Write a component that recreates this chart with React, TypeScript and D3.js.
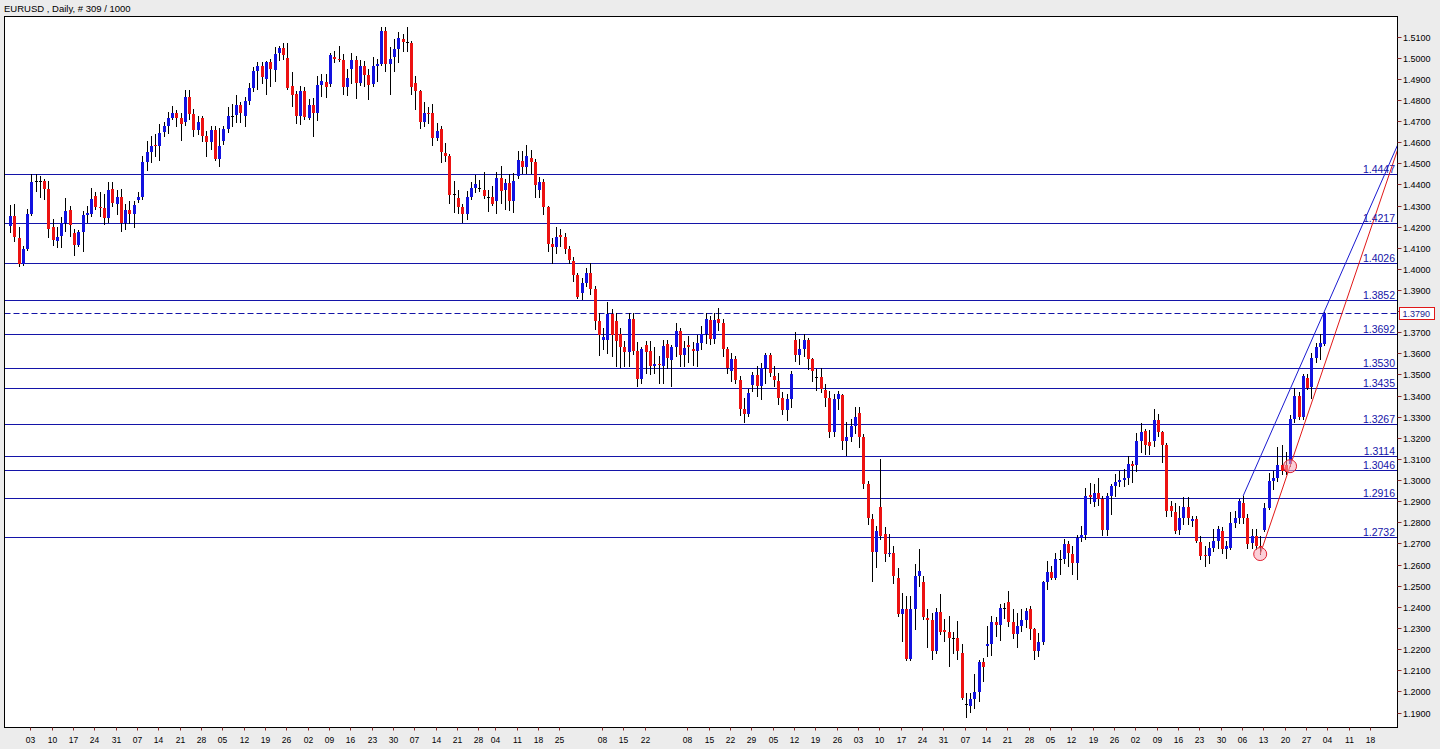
import React from 'react';
import * as d3 from 'd3';

const TITLE = 'EURUSD , Daily, # 309 / 1000';
const firstDay = '2009-07-27';
const lastAxisDay = '2010-10-22';
const holidays = ['2010-01-01'];

const opens = [
1.4202,1.4248,1.4148,1.4022,1.4093,1.4262,1.4410,1.4412,1.4414,1.4377,
1.4196,1.4132,1.4156,1.4216,1.4278,1.4169,1.4112,1.4174,1.4254,1.4259,
1.4345,1.4295,1.4287,1.4241,1.4378,1.4306,1.4338,1.4216,1.4278,1.4259,
1.4325,1.4338,1.4506,1.4554,1.4588,1.4582,1.4648,1.4677,1.4715,1.4737,
1.4712,1.4693,1.4813,1.4732,1.4658,1.4715,1.4630,1.4601,1.4658,1.4522,
1.4606,1.4661,1.4722,1.4727,1.4775,1.4725,1.4796,1.4857,1.4937,1.4961,
1.4901,1.4977,1.4942,1.5020,1.5044,1.4998,1.4866,1.4827,1.4724,1.4843,
1.4712,1.4775,1.4737,1.4870,1.4885,1.4873,1.5003,1.4995,1.4988,1.4861,
1.4945,1.4988,1.4879,1.4958,1.4917,1.4875,1.4961,1.4972,1.5128,1.4970,
1.5001,1.5040,1.5090,1.5072,1.5068,1.4879,1.4843,1.4696,1.4740,1.4737,
1.4620,1.4661,1.4547,1.4532,1.4355,1.4335,1.4291,1.4262,1.4338,1.4382,
1.4385,1.4374,1.4342,1.4340,1.4322,1.4429,1.4373,1.4405,1.4322,1.4440,
1.4512,1.4480,1.4527,1.4506,1.4374,1.4412,1.4291,1.4117,1.4103,1.4160,
1.4150,1.4093,1.4038,1.3970,1.3888,1.3935,1.3979,1.3907,1.3754,1.3665,
1.3664,1.3785,1.3754,1.3691,1.3628,1.3607,1.3765,1.3612,1.3478,1.3638,
1.3612,1.3538,1.3550,1.3541,1.3644,1.3569,1.3628,1.3706,1.3590,1.3640,
1.3622,1.3611,1.3648,1.3691,1.3760,1.3666,1.3762,1.3745,1.3619,1.3517,
1.3572,1.3472,1.3336,1.3315,1.3450,1.3498,1.3444,1.3533,1.3592,1.3495,
1.3470,1.3391,1.3334,1.3382,1.3664,1.3591,1.3620,1.3664,1.3573,1.3488,
1.3490,1.3425,1.3391,1.3226,1.3383,1.3402,1.3185,1.3205,1.3257,1.3317,
1.3202,1.2981,1.2818,1.2660,1.2875,1.2744,1.2650,1.2654,1.2539,1.2365,
1.2389,1.2152,1.2389,1.2547,1.2516,1.2345,1.2339,1.2192,1.2374,1.2290,
1.2279,1.2255,1.2255,1.2184,1.1938,1.1931,1.1963,1.1999,1.2140,1.2216,
1.2224,1.2329,1.2313,1.2390,1.2421,1.2329,1.2270,1.2310,1.2340,1.2392,
1.2294,1.2192,1.2236,1.2516,1.2563,1.2535,1.2625,1.2628,1.2697,1.2650,
1.2610,1.2728,1.2740,1.2930,1.2897,1.2941,1.2913,1.2764,1.2923,1.2970,
1.2990,1.3000,1.3008,1.3075,1.3072,1.3183,1.3232,1.3181,1.3186,1.3284,
1.3226,1.3166,1.2878,1.2847,1.2764,1.2823,1.2875,1.2807,1.2815,1.2705,
1.2646,1.2641,1.2681,1.2712,1.2760,1.2676,1.2681,1.2799,1.2823,1.2894,
1.2823,1.2700,1.2737,1.2690,1.2764,1.2869,1.2998,1.3012,1.3071,1.3070,
1.3075,1.3289,1.3396,1.3297,1.3484,1.3443,1.3576,1.3631,1.3644
];

const highs = [
1.4303,1.4306,1.4197,1.4110,1.4283,1.4448,1.4448,1.4440,1.4425,1.4418,
1.4238,1.4198,1.4247,1.4335,1.4298,1.4187,1.4184,1.4275,1.4298,1.4382,
1.4362,1.4362,1.4353,1.4409,1.4409,1.4374,1.4377,1.4306,1.4322,1.4322,
1.4364,1.4535,1.4605,1.4630,1.4638,1.4685,1.4693,1.4743,1.4769,1.4753,
1.4736,1.4847,1.4847,1.4756,1.4724,1.4724,1.4653,1.4677,1.4674,1.4669,
1.4674,1.4764,1.4780,1.4822,1.4788,1.4812,1.4882,1.4956,1.4977,1.4980,
1.4985,1.4993,1.5048,1.5056,1.5068,1.5067,1.4932,1.4843,1.4866,1.4859,
1.4806,1.4811,1.4911,1.4922,1.4922,1.5024,1.5029,1.5056,1.5016,1.4945,
1.5024,1.5008,1.4989,1.4985,1.4945,1.5001,1.4995,1.5145,1.5143,1.5048,
1.5087,1.5119,1.5111,1.5143,1.5079,1.4911,1.4847,1.4788,1.4766,1.4780,
1.4690,1.4677,1.4595,1.4543,1.4416,1.4374,1.4305,1.4369,1.4409,1.4443,
1.4421,1.4459,1.4374,1.4393,1.4459,1.4487,1.4424,1.4448,1.4456,1.4558,
1.4558,1.4585,1.4563,1.4519,1.4433,1.4424,1.4298,1.4148,1.4196,1.4191,
1.4172,1.4109,1.4054,1.3980,1.3959,1.4006,1.4027,1.3919,1.3793,1.3722,
1.3841,1.3809,1.3793,1.3720,1.3659,1.3793,1.3793,1.3655,1.3628,1.3659,
1.3659,1.3628,1.3588,1.3665,1.3664,1.3640,1.3746,1.3722,1.3659,1.3683,
1.3655,1.3686,1.3730,1.3790,1.3775,1.3790,1.3815,1.3762,1.3632,1.3604,
1.3588,1.3493,1.3391,1.3430,1.3512,1.3541,1.3553,1.3604,1.3604,1.3541,
1.3509,1.3418,1.3407,1.3517,1.3699,1.3667,1.3691,1.3675,1.3580,1.3525,
1.3533,1.3454,1.3422,1.3407,1.3422,1.3407,1.3273,1.3288,1.3348,1.3348,
1.3217,1.2996,1.2840,1.2783,1.3100,1.2780,1.2744,1.2689,1.2586,1.2468,
1.2452,1.2452,1.2602,1.2676,1.2547,1.2389,1.2373,1.2397,1.2460,1.2342,
1.2357,1.2281,1.2333,1.2223,1.1994,1.1991,1.2081,1.2149,1.2160,1.2310,
1.2357,1.2354,1.2412,1.2420,1.2475,1.2389,1.2373,1.2389,1.2395,1.2404,
1.2302,1.2278,1.2523,1.2617,1.2594,1.2657,1.2669,1.2720,1.2712,1.2689,
1.2739,1.2783,1.2965,1.2988,1.2983,1.3010,1.2925,1.2941,1.2983,1.3028,
1.3044,1.3052,1.3115,1.3091,1.3225,1.3269,1.3244,1.3238,1.3339,1.3312,
1.3233,1.3178,1.2902,1.2894,1.2878,1.2922,1.2922,1.2830,1.2831,1.2736,
1.2689,1.2705,1.2768,1.2783,1.2776,1.2712,1.2847,1.2854,1.2910,1.2925,
1.2839,1.2768,1.2768,1.2736,1.2894,1.3036,1.3044,1.3159,1.3165,1.3131,
1.3310,1.3438,1.3415,1.3501,1.3501,1.3601,1.3651,1.3691,1.3797
];

const lows = [
1.4175,1.4132,1.4013,1.4016,1.4090,1.4255,1.4369,1.4340,1.4330,1.4150,
1.4112,1.4102,1.4102,1.4177,1.4156,1.4067,1.4109,1.4085,1.4220,1.4251,
1.4283,1.4251,1.4211,1.4222,1.4298,1.4259,1.4180,1.4188,1.4216,1.4196,
1.4318,1.4330,1.4470,1.4506,1.4535,1.4516,1.4627,1.4645,1.4709,1.4677,
1.4611,1.4680,1.4709,1.4627,1.4638,1.4606,1.4532,1.4567,1.4516,1.4487,
1.4590,1.4648,1.4677,1.4696,1.4696,1.4677,1.4780,1.4843,1.4851,1.4882,
1.4830,1.4866,1.4890,1.4989,1.4993,1.4851,1.4769,1.4690,1.4685,1.4709,
1.4709,1.4630,1.4705,1.4819,1.4812,1.4866,1.4977,1.4985,1.4827,1.4822,
1.4880,1.4811,1.4869,1.4866,1.4803,1.4866,1.4890,1.4965,1.4937,1.4827,
1.4937,1.4977,1.5032,1.5032,1.4827,1.4756,1.4669,1.4674,1.4690,1.4587,
1.4611,1.4506,1.4511,1.4311,1.4267,1.4264,1.4224,1.4235,1.4330,1.4362,
1.4369,1.4334,1.4274,1.4301,1.4264,1.4314,1.4282,1.4279,1.4267,1.4430,
1.4456,1.4453,1.4453,1.4338,1.4338,1.4259,1.4085,1.4030,1.4077,1.4109,
1.4077,1.4030,1.3943,1.3860,1.3856,1.3919,1.3880,1.3714,1.3591,1.3620,
1.3600,1.3588,1.3541,1.3535,1.3541,1.3541,1.3596,1.3446,1.3462,1.3509,
1.3501,1.3509,1.3462,1.3462,1.3533,1.3446,1.3588,1.3541,1.3541,1.3560,
1.3545,1.3541,1.3620,1.3650,1.3643,1.3650,1.3710,1.3588,1.3509,1.3470,
1.3462,1.3307,1.3273,1.3304,1.3422,1.3396,1.3383,1.3462,1.3491,1.3446,
1.3360,1.3312,1.3285,1.3344,1.3565,1.3549,1.3588,1.3528,1.3470,1.3427,
1.3418,1.3351,1.3206,1.3210,1.3336,1.3146,1.3118,1.3186,1.3225,1.3159,
1.2965,1.2791,1.2523,1.2591,1.2721,1.2617,1.2641,1.2515,1.2357,1.2239,
1.2149,1.2149,1.2294,1.2499,1.2342,1.2208,1.2155,1.2184,1.2271,1.2239,
1.2120,1.2184,1.2152,1.1963,1.1881,1.1903,1.1923,1.1955,1.2049,1.2168,
1.2171,1.2262,1.2243,1.2349,1.2310,1.2255,1.2208,1.2286,1.2305,1.2247,
1.2152,1.2168,1.2223,1.2484,1.2531,1.2531,1.2554,1.2610,1.2594,1.2554,
1.2531,1.2712,1.2720,1.2894,1.2878,1.2880,1.2739,1.2739,1.2839,1.2925,
1.2970,1.2970,1.2981,1.2989,1.3044,1.3131,1.3123,1.3123,1.3160,1.3209,
1.3085,1.2831,1.2831,1.2752,1.2744,1.2791,1.2791,1.2783,1.2705,1.2626,
1.2594,1.2610,1.2665,1.2681,1.2657,1.2629,1.2673,1.2776,1.2799,1.2799,
1.2681,1.2681,1.2673,1.2650,1.2760,1.2862,1.2960,1.2996,1.3028,1.3028,
1.3066,1.3273,1.3288,1.3288,1.3430,1.3391,1.3557,1.3572,1.3640
];

const closes = [
1.4249,1.4153,1.4022,1.4093,1.4259,1.4412,1.4414,1.4414,1.4380,1.4188,
1.4137,1.4153,1.4216,1.4275,1.4207,1.4112,1.4175,1.4254,1.4264,1.4330,
1.4295,1.4287,1.4241,1.4373,1.4311,1.4338,1.4216,1.4278,1.4259,1.4302,
1.4338,1.4504,1.4554,1.4582,1.4580,1.4642,1.4677,1.4715,1.4737,1.4712,
1.4685,1.4813,1.4732,1.4658,1.4695,1.4630,1.4601,1.4656,1.4522,1.4582,
1.4661,1.4725,1.4725,1.4775,1.4738,1.4796,1.4857,1.4937,1.4961,1.4906,
1.4977,1.4945,1.5016,1.5044,1.5013,1.4858,1.4822,1.4724,1.4843,1.4720,
1.4775,1.4738,1.4870,1.4887,1.4859,1.5011,1.4995,1.4990,1.4861,1.4905,
1.4988,1.4879,1.4961,1.4917,1.4870,1.4961,1.4972,1.5128,1.4970,1.4993,
1.5040,1.5095,1.5073,1.5068,1.4861,1.4843,1.4693,1.4740,1.4733,1.4620,
1.4651,1.4551,1.4532,1.4350,1.4352,1.4291,1.4262,1.4338,1.4382,1.4401,
1.4381,1.4343,1.4340,1.4305,1.4429,1.4369,1.4405,1.4322,1.4414,1.4516,
1.4480,1.4532,1.4508,1.4396,1.4412,1.4291,1.4117,1.4103,1.4151,1.4150,
1.4093,1.4042,1.3970,1.3869,1.3935,1.3979,1.3907,1.3754,1.3686,1.3676,
1.3785,1.3686,1.3660,1.3630,1.3607,1.3765,1.3610,1.3478,1.3620,1.3607,
1.3541,1.3550,1.3543,1.3635,1.3576,1.3628,1.3706,1.3593,1.3625,1.3628,
1.3611,1.3648,1.3691,1.3762,1.3666,1.3760,1.3745,1.3619,1.3533,1.3572,
1.3472,1.3336,1.3315,1.3411,1.3498,1.3444,1.3533,1.3592,1.3505,1.3475,
1.3391,1.3334,1.3382,1.3502,1.3591,1.3620,1.3664,1.3573,1.3517,1.3490,
1.3430,1.3391,1.3226,1.3383,1.3410,1.3185,1.3205,1.3257,1.3297,1.3202,
1.2981,1.2823,1.2660,1.2760,1.2736,1.2650,1.2655,1.2544,1.2365,1.2389,
1.2152,1.2389,1.2547,1.2570,1.2350,1.2339,1.2192,1.2374,1.2279,1.2279,
1.2255,1.2255,1.2192,1.1971,1.1934,1.1963,1.1995,1.2140,1.2117,1.2225,
1.2329,1.2313,1.2393,1.2393,1.2329,1.2270,1.2310,1.2340,1.2380,1.2294,
1.2192,1.2236,1.2516,1.2563,1.2535,1.2628,1.2628,1.2697,1.2655,1.2610,
1.2728,1.2740,1.2923,1.2920,1.2941,1.2910,1.2764,1.2923,1.2970,1.2990,
1.3000,1.3010,1.3075,1.3065,1.3183,1.3230,1.3168,1.3162,1.3284,1.3226,
1.3166,1.2856,1.2854,1.2760,1.2823,1.2875,1.2821,1.2815,1.2712,1.2641,
1.2641,1.2681,1.2712,1.2768,1.2676,1.2686,1.2799,1.2823,1.2902,1.2823,
1.2697,1.2737,1.2688,1.2683,1.2869,1.2998,1.3010,1.3071,1.3041,1.3040,
1.3289,1.3396,1.3297,1.3494,1.3438,1.3576,1.3631,1.3647,1.3790
];

const priceTicks = [
1.19,1.20,1.21,1.22,1.23,1.24,1.25,1.26,1.27,1.28,1.29,1.30,1.31,1.32,1.33,1.34,1.35,
1.36,1.37,1.38,1.39,1.40,1.41,1.42,1.43,1.44,1.45,1.46,1.47,1.48,1.49,1.50,1.51
];

const levels = [1.4447, 1.4217, 1.4026, 1.3852, 1.3692, 1.3530, 1.3435, 1.3267, 1.3114, 1.3046, 1.2916, 1.2732];
const lastPrice = 1.3790;

const tickDates = [
'2009-08-03','2009-08-10','2009-08-17','2009-08-24','2009-08-31','2009-09-07','2009-09-14','2009-09-21','2009-09-28',
'2009-10-05','2009-10-12','2009-10-19','2009-10-26','2009-11-02','2009-11-09','2009-11-16','2009-11-23','2009-11-30',
'2009-12-07','2009-12-14','2009-12-21','2009-12-28','2010-01-04','2010-01-11','2010-01-18','2010-01-25',
'2010-02-08','2010-02-15','2010-02-22','2010-03-08','2010-03-15','2010-03-22','2010-03-29','2010-04-05','2010-04-12',
'2010-04-19','2010-04-26','2010-05-03','2010-05-10','2010-05-17','2010-05-24','2010-05-31','2010-06-07','2010-06-14',
'2010-06-21','2010-06-28','2010-07-05','2010-07-12','2010-07-19','2010-07-26','2010-08-02','2010-08-09','2010-08-16',
'2010-08-23','2010-08-30','2010-09-06','2010-09-13','2010-09-20','2010-09-27','2010-10-04','2010-10-11','2010-10-18'
];

const blueTrend = [{ date: '2010-09-06', price: 1.2925 }, { date: '2010-10-01', price: 1.3797 }];
const redTrend = [{ date: '2010-09-10', price: 1.2650 }, { date: '2010-09-21', price: 1.3066 }];
const markedPoints = [{ date: '2010-09-10', price: 1.2650 }, { date: '2010-09-21', price: 1.3066 }];

const W = 1440;
const H = 749;
const PL = 4.5, PT = 16.5, PR = 1397.5, PB = 727.5;
const FONT = "'Liberation Sans', Arial, sans-serif";
const BULL = '#1212e0';
const BEAR = '#ec1212';
const LEVEL = '#1414a8';

export default function App() {
  const parse = d3.utcParse('%Y-%m-%d');
  const fmt = d3.utcFormat('%Y-%m-%d');
  const dayFmt = d3.utcFormat('%d');
  const days = d3.utcDay
    .range(parse(firstDay) as Date, d3.utcDay.offset(parse(lastAxisDay) as Date, 1))
    .filter((d) => d.getUTCDay() !== 0 && d.getUTCDay() !== 6 && !holidays.includes(fmt(d)));
  const indexOf = new Map<string, number>(days.map((d, i) => [fmt(d), i]));

  const x = d3.scaleLinear().domain([0, opens.length - 1]).range([10, 1324.2]);
  const y = d3.scaleLinear().domain([1.19, 1.51]).range([712.5, 36.5]);

  const candles = opens.map((o, i) => {
    const c = closes[i];
    const cx = Math.round(x(i));
    const yo = y(o), yc = y(c);
    const top = Math.round(Math.min(yo, yc));
    const bot = Math.round(Math.max(yo, yc));
    const flat = Math.abs(yo - yc) < 1;
    return (
      <g key={i}>
        <line x1={cx + 0.5} x2={cx + 0.5} y1={Math.round(y(highs[i]))} y2={Math.round(y(lows[i])) + 1} stroke="#000" strokeWidth={1} />
        {flat ? (
          <line x1={cx - 1} x2={cx + 2} y1={top + 0.5} y2={top + 0.5} stroke="#000" strokeWidth={1} />
        ) : (
          <rect x={cx - 1} y={top} width={3} height={Math.max(1, bot - top)} fill={c >= o ? BULL : BEAR} />
        )}
      </g>
    );
  });

  const trendLine = (pts: { date: string; price: number }[]) => {
    const i0 = indexOf.get(pts[0].date) as number;
    const i1 = indexOf.get(pts[1].date) as number;
    const x0 = x(i0), y0 = y(pts[0].price);
    const x1 = x(i1), y1 = y(pts[1].price);
    const slope = (y1 - y0) / (x1 - x0);
    return { x0, y0, x2: PR, y2: y0 + slope * (PR - x0) };
  };
  const bt = trendLine(blueTrend);
  const rt = trendLine(redTrend);
  const yLast = Math.round(y(lastPrice)) + 0.5;

  return (
    <svg width={W} height={H} style={{ position: 'absolute', left: 0, top: 0, display: 'block' }} xmlns="http://www.w3.org/2000/svg">
      <defs>
        <clipPath id="plotClip">
          <rect x={PL} y={PT} width={PR - PL} height={PB - PT} />
        </clipPath>
      </defs>
      <rect x={0} y={0} width={W} height={H} fill="#ececec" />
      <rect x={PL} y={PT} width={PR - PL} height={PB - PT} fill="#ffffff" />
      <text x={4} y={12} fontFamily={FONT} fontSize={9.5} fill="#000">{TITLE}</text>

      <g clipPath="url(#plotClip)">
        {levels.map((lv) => {
          const yy = Math.round(y(lv)) + 0.5;
          return <line key={lv} x1={PL} x2={PR} y1={yy} y2={yy} stroke={LEVEL} strokeWidth={1} />;
        })}
        <line x1={PL} x2={PR} y1={yLast} y2={yLast} stroke={LEVEL} strokeWidth={1} strokeDasharray="6,3" />
        {candles}
        <line x1={bt.x0} y1={bt.y0} x2={bt.x2} y2={bt.y2} stroke="#1a1ad0" strokeWidth={1} />
        <line x1={rt.x0} y1={rt.y0} x2={rt.x2} y2={rt.y2} stroke="#e01818" strokeWidth={1} />
        {markedPoints.map((p) => (
          <circle key={p.date} cx={x(indexOf.get(p.date) as number)} cy={y(p.price)} r={6.5}
            fill="#f7a8b8" fillOpacity={0.55} stroke="#e02030" strokeWidth={1} />
        ))}
        {levels.map((lv) => (
          <text key={'t' + lv} x={1395} y={Math.round(y(lv)) - 1} textAnchor="end" fontFamily={FONT} fontSize={10.5} fill={LEVEL}>
            {lv.toFixed(4)}
          </text>
        ))}
      </g>

      <rect x={PL} y={PT} width={PR - PL} height={PB - PT} fill="none" stroke="#000" strokeWidth={1} />

      {priceTicks.map((p) => {
        const yy = Math.round(y(p)) + 0.5;
        return (
          <g key={p}>
            <line x1={PR} x2={PR + 4} y1={yy} y2={yy} stroke="#8a2a2a" strokeWidth={1} />
            <text x={1403} y={yy + 3.5} fontFamily={FONT} fontSize={9} fill="#000">{p.toFixed(4)}</text>
          </g>
        );
      })}

      <rect x={1399.5} y={yLast - 6} width={35} height={12} fill="#ffffff" stroke="#e01818" strokeWidth={1} />
      <text x={1402.5} y={yLast + 3.5} fontFamily={FONT} fontSize={9} fill="#1a1a90">{lastPrice.toFixed(4)}</text>

      {tickDates.map((td) => {
        const idx = indexOf.get(td) as number;
        const xx = Math.round(x(idx)) - 1;
        return (
          <g key={td}>
            <line x1={xx + 0.5} x2={xx + 0.5} y1={PB} y2={PB + 3} stroke="#8a2a2a" strokeWidth={1} />
            <text x={xx + 0.5} y={743} textAnchor="middle" fontFamily={FONT} fontSize={8.5} fill="#000">
              {dayFmt(parse(td) as Date)}
            </text>
          </g>
        );
      })}
    </svg>
  );
}
